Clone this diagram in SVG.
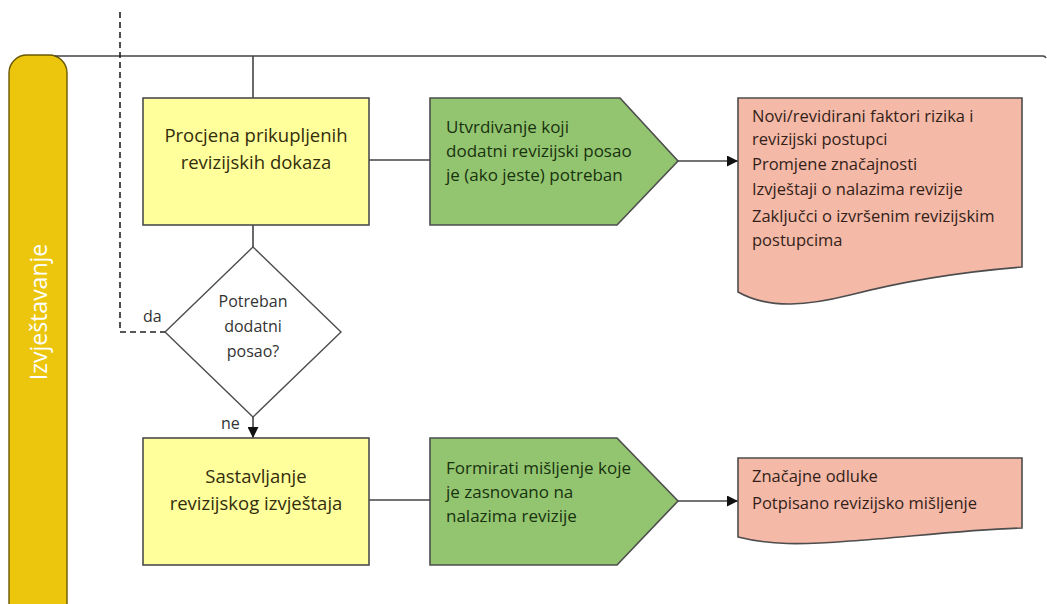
<svg xmlns="http://www.w3.org/2000/svg" width="1047" height="604" viewBox="0 0 1047 604">
  <style>
    .lbl { font-family: "Open Sans", "Liberation Sans", sans-serif; font-size: 15.5px; }
    .proc { fill: #FFFF9C; stroke: #4d4d4d; stroke-width: 1.6; }
    .act { fill: #93C571; stroke: #4d4d4d; stroke-width: 1.6; }
    .doc { fill: #F5B9A8; stroke: #4d4d4d; stroke-width: 1.6; }
    .dec { fill: #ffffff; stroke: #4d4d4d; stroke-width: 1.4; }
    .t-lane { fill: #ffffff; text-anchor: middle; font-size: 23px; }
    .t-proc { fill: #332d0c; text-anchor: middle; font-size: 18.5px; }
    .t-act { fill: #18320e; font-size: 17px; }
    .t-doc { fill: #331f18; font-size: 16.5px; }
    .t-dec { fill: #333333; text-anchor: middle; font-size: 16px; }
    .wire { stroke: #444; stroke-width: 1.6; fill: none; }
    .dash { stroke: #222; stroke-width: 1.6; fill: none; stroke-dasharray: 6 4; }
  </style>
  <defs>
    <marker id="arr" viewBox="0 0 10 10" refX="10" refY="5" markerWidth="12" markerHeight="11" markerUnits="userSpaceOnUse" orient="auto">
      <path d="M0,0 L10,5 L0,10 z" fill="#111"/>
    </marker>
  </defs>

  <rect width="1047" height="604" fill="#ffffff"/>

  <!-- swimlane header -->
  <g id="lane">
    <rect x="9" y="55" width="58" height="570" rx="18" ry="18" fill="#EBC60C" stroke="#6b5800" stroke-width="1.4"/>
    <text class="lbl t-lane" x="38" y="312" transform="rotate(-90 38 312)" dominant-baseline="central">Izvještavanje</text>
  </g>

  <!-- connectors -->
  <g id="connectors">
    <path class="wire" d="M55,56 H1043 q2,0 3,2"/>
    <path class="wire" d="M253,56 V98"/>
    <path class="dash" d="M120,12 V332 H165"/>
    <path class="wire" d="M369,160 H430"/>
    <path class="wire" d="M678,161 H738" marker-end="url(#arr)"/>
    <path class="wire" d="M253,225 V247"/>
    <path class="wire" d="M253,417 V438" marker-end="url(#arr)"/>
    <path class="wire" d="M369,500 H430"/>
    <path class="wire" d="M678,501 H738" marker-end="url(#arr)"/>
    <text class="lbl" x="143" y="322" fill="#333" style="font-size:16px">da</text>
    <text class="lbl" x="221" y="429" fill="#333" style="font-size:16px">ne</text>
  </g>

  <g id="procjena">
    <rect class="proc" x="143" y="98" width="226" height="127"/>
    <text class="lbl t-proc" x="256" y="142">Procjena prikupljenih</text>
    <text class="lbl t-proc" x="256" y="169">revizijskih dokaza</text>
  </g>

  <g id="utvrdivanje">
    <path class="act" d="M430,98 H620 L678,161 L617,225 H430 Z"/>
    <text class="lbl t-act" x="446" y="133">Utvrdivanje koji</text>
    <text class="lbl t-act" x="446" y="157">dodatni revizijski posao</text>
    <text class="lbl t-act" x="446" y="181">je (ako jeste) potreban</text>
  </g>

  <g id="izlazi-1">
    <path class="doc" d="M738,98 H1022 V267 C960,272 900,282 850,295 C810,305 770,310 738,292 Z"/>
    <text class="lbl t-doc" x="752" y="122">Novi/revidirani faktori rizika i</text>
    <text class="lbl t-doc" x="752" y="145">revizijski postupci</text>
    <text class="lbl t-doc" x="752" y="170">Promjene značajnosti</text>
    <text class="lbl t-doc" x="752" y="195">Izvještaji o nalazima revizije</text>
    <text class="lbl t-doc" x="752" y="222">Zaključci o izvršenim revizijskim</text>
    <text class="lbl t-doc" x="752" y="246">postupcima</text>
  </g>

  <g id="odluka">
    <path class="dec" d="M253,247 L341,332 L253,417 L165,332 Z"/>
    <text class="lbl t-dec" x="253" y="307">Potreban</text>
    <text class="lbl t-dec" x="253" y="332">dodatni</text>
    <text class="lbl t-dec" x="253" y="357">posao?</text>
  </g>

  <g id="sastavljanje">
    <rect class="proc" x="143" y="438" width="226" height="127"/>
    <text class="lbl t-proc" x="256" y="483">Sastavljanje</text>
    <text class="lbl t-proc" x="256" y="510">revizijskog izvještaja</text>
  </g>

  <g id="formirati">
    <path class="act" d="M430,438 H617 L678,501 L617,565 H430 Z"/>
    <text class="lbl t-act" x="446" y="474">Formirati mišljenje koje</text>
    <text class="lbl t-act" x="446" y="498">je zasnovano na</text>
    <text class="lbl t-act" x="446" y="522">nalazima revizije</text>
  </g>

  <g id="izlazi-2">
    <path class="doc" d="M738,458 H1022 V528 C960,530 900,538 850,541 C800,545 770,545 738,537 Z"/>
    <text class="lbl t-doc" x="752" y="482">Značajne odluke</text>
    <text class="lbl t-doc" x="752" y="509">Potpisano revizijsko mišljenje</text>
  </g>
</svg>
